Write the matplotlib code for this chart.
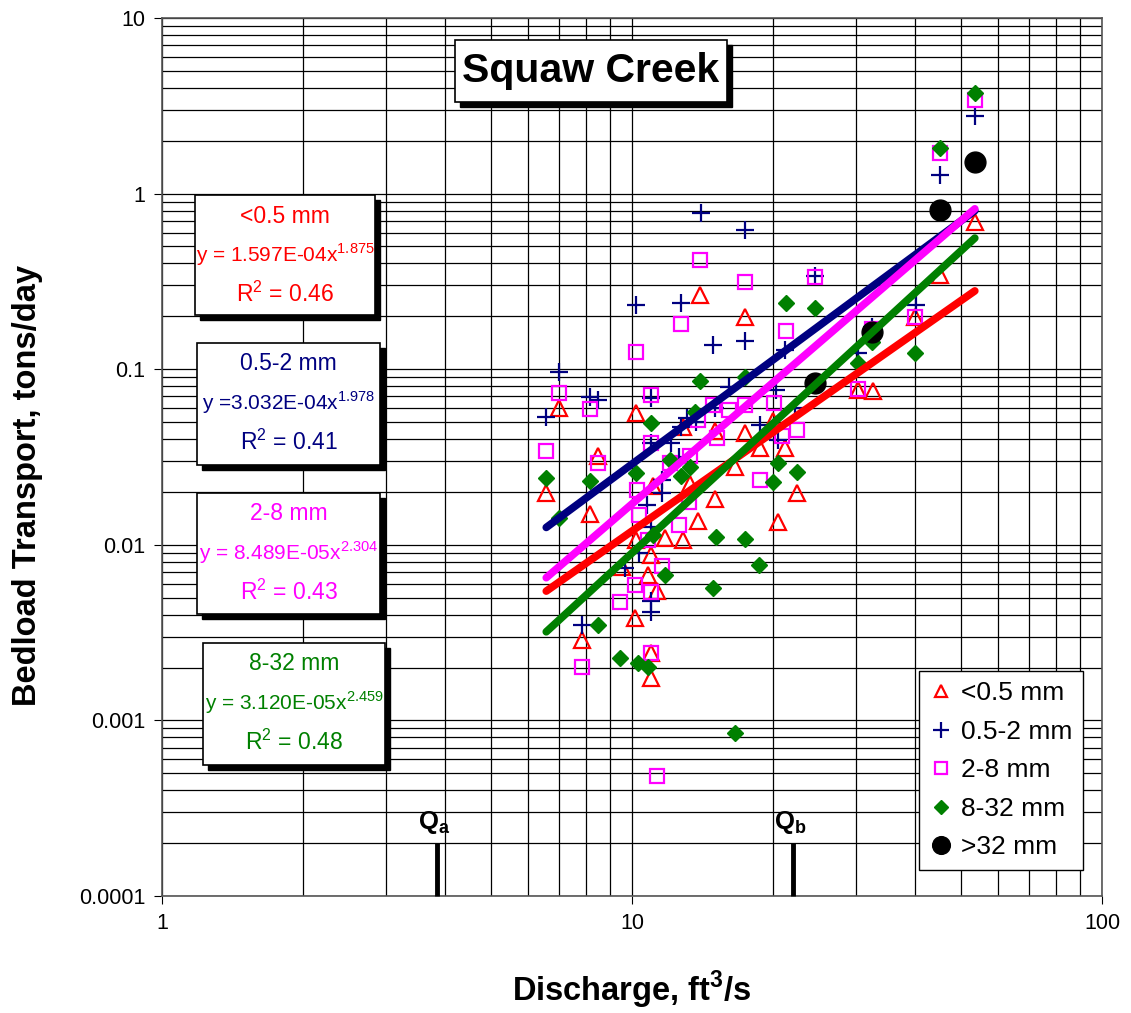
import matplotlib
matplotlib.use('Agg')
import matplotlib.pyplot as plt
from matplotlib.patches import Rectangle
from matplotlib.ticker import FixedLocator, FixedFormatter, NullFormatter
import numpy as np

plt.rcParams['font.family'] = ['Liberation Sans', 'DejaVu Sans']
plt.rcParams['mathtext.fontset'] = 'custom'
plt.rcParams['mathtext.rm'] = 'Liberation Sans'
plt.rcParams['mathtext.bf'] = 'Liberation Sans:bold'

# data (discharge ft3/s, transport tons/day)
fine_x = [6.57, 7.01, 7.81, 8.16, 8.48, 10.22, 10.17, 10.22, 9.50, 10.79, 11.00, 11.00,
          11.00, 11.28, 11.06, 11.73, 12.81, 12.81, 13.26, 13.79, 13.92, 14.99, 14.99,
          16.53, 17.36, 17.36, 18.69, 19.93, 20.41, 21.12, 22.40, 30.22, 32.53, 39.97,
          45.18, 53.63]
fine_y = [0.0198, 0.0604, 0.00288, 0.0149, 0.0322, 0.0566, 0.00385, 0.0106, 0.00751,
          0.00677, 0.00879, 0.00243, 0.00175, 0.00548, 0.0215, 0.0110, 0.0106, 0.0471,
          0.0223, 0.0137, 0.266, 0.0183, 0.0447, 0.0279, 0.197, 0.0436, 0.0358, 0.0510,
          0.0134, 0.0358, 0.0196, 0.0765, 0.0755, 0.197, 0.346, 0.693]

sand_x = [6.57, 7.01, 8.16, 8.48, 7.81, 9.64, 10.37, 10.22, 10.74, 11.00, 11.00, 11.00,
          11.00, 11.00, 11.56, 11.61, 12.11, 12.59, 12.72, 12.72, 13.10, 13.69, 14.03,
          14.88, 14.99, 16.09, 17.36, 17.36, 18.69, 20.26, 20.41, 21.12, 22.18, 24.47,
          30.22, 32.36, 40.17, 45.18, 53.63]
sand_y = [0.0537, 0.0969, 0.0698, 0.0671, 0.00351, 0.00742, 0.00903, 0.233, 0.0169,
          0.0689, 0.0382, 0.0127, 0.00481, 0.00416, 0.0235, 0.0198, 0.0382, 0.0318,
          0.0471, 0.239, 0.0530, 0.0503, 0.779, 0.138, 0.0604, 0.0796, 0.624, 0.144,
          0.0484, 0.0765, 0.0397, 0.129, 0.0604, 0.341, 0.123, 0.175, 0.233, 1.28, 2.75]

fgrav_x = [6.57, 7.01, 7.81, 8.16, 8.48, 9.45, 10.17, 10.22, 10.27, 10.37, 10.79, 11.00,
           11.00, 11.00, 11.00, 11.28, 11.61, 12.02, 12.59, 12.72, 13.26, 13.19, 13.79,
           13.92, 14.88, 15.17, 16.09, 17.36, 17.36, 18.69, 20.01, 20.82, 21.23, 22.40,
           24.47, 30.22, 32.36, 39.97, 45.18, 53.63]
fgrav_y = [0.0340, 0.0736, 0.00202, 0.0597, 0.0294, 0.00475, 0.00593, 0.126, 0.0206,
           0.0147, 0.0107, 0.0717, 0.0382, 0.00541, 0.00243, 0.000485, 0.00761, 0.0294,
           0.0129, 0.182, 0.0322, 0.0176, 0.0516, 0.421, 0.0629, 0.0408, 0.0589, 0.315,
           0.0629, 0.0235, 0.0645, 0.0419, 0.166, 0.0453, 0.337, 0.0775, 0.170, 0.197,
           1.71, 3.43]

cgrav_x = [6.57, 7.01, 8.16, 8.48, 9.45, 10.22, 10.32, 10.79, 11.00, 11.06, 11.73, 12.02,
           12.72, 13.26, 13.59, 13.92, 14.88, 15.06, 16.53, 17.36, 17.36, 18.60, 19.93,
           20.41, 21.23, 22.40, 24.47, 30.22, 32.36, 39.97, 45.18, 53.63]
cgrav_y = [0.0241, 0.0143, 0.0232, 0.00351, 0.00228, 0.0258, 0.00213, 0.00202, 0.0496,
           0.0114, 0.00677, 0.0306, 0.0245, 0.0279, 0.0574, 0.0861, 0.00571, 0.0111,
           0.000852, 0.0908, 0.0108, 0.00771, 0.0229, 0.0294, 0.239, 0.0261, 0.224,
           0.109, 0.142, 0.124, 1.83, 3.76]

cob_x = [24.47, 32.36, 45.18, 53.63]
cob_y = [0.0839, 0.162, 0.811, 1.52]

# power-law fits y = a * x^b
fit_names = ['<0.5 mm', '0.5-2 mm', '2-8 mm', '8-32 mm']
fit_a = [1.597e-4, 3.032e-4, 8.489e-5, 3.120e-5]
fit_b = [1.875, 1.978, 2.304, 2.459]
fit_r2 = [0.46, 0.41, 0.43, 0.48]
fit_eq = ['y = 1.597E-04x', 'y =3.032E-04x', 'y = 8.489E-05x', 'y = 3.120E-05x']

q_a = 3.85
q_b = 22.0

W, H = 1131, 1013
fig = plt.figure(figsize=(W / 100, H / 100), dpi=100)
ax = fig.add_axes([162 / W, 1 - 896 / H, 940 / W, 878 / H])
ax.set_xscale('log')
ax.set_yscale('log')
ax.set_xlim(1, 100)
ax.set_ylim(1e-4, 10)

ax.grid(which='both', color='black', lw=0.9)
ax.set_axisbelow(True)
ax.yaxis.set_major_locator(FixedLocator([1e-4, 1e-3, 1e-2, 0.1, 1, 10]))
ax.yaxis.set_major_formatter(FixedFormatter(['0.0001', '0.001', '0.01', '0.1', '1', '10']))
ax.xaxis.set_major_locator(FixedLocator([1, 10, 100]))
ax.xaxis.set_major_formatter(FixedFormatter(['1', '10', '100']))
ax.xaxis.set_minor_formatter(NullFormatter())
ax.yaxis.set_minor_formatter(NullFormatter())
ax.tick_params(which='major', direction='out', length=6, labelsize=15.5, pad=6)
ax.tick_params(which='minor', length=0)
for s in ax.spines.values():
    s.set_color('#555555')
    s.set_linewidth(1.2)

colors = ['#FF0000', '#000080', '#FF00FF', '#008000']

h1, = ax.plot(fine_x, fine_y, ls='none', marker='^', mfc='none', mec=colors[0],
              mew=1.6, ms=11, label='<0.5 mm')
h2, = ax.plot(sand_x, sand_y, ls='none', marker='+', mec=colors[1],
              mew=1.6, ms=13, label='0.5-2 mm')
h3, = ax.plot(fgrav_x, fgrav_y, ls='none', marker='s', mfc='none', mec=colors[2],
              mew=1.6, ms=10, label='2-8 mm')
h4, = ax.plot(cgrav_x, cgrav_y, ls='none', marker='D', mfc=colors[3], mec=colors[3],
              ms=8, label='8-32 mm')
h5, = ax.plot(cob_x, cob_y, ls='none', marker='o', mfc='black', mec='black',
              ms=15, label='>32 mm')

xs = np.linspace(6.57, 53.63, 50)
for i in [0, 1, 2, 3]:
    ax.plot(xs, fit_a[i] * xs ** fit_b[i], color=colors[i], lw=5.5,
            solid_capstyle='round', zorder=3)

# Qa / Qb markers
for q, lab in [(q_a, r'Q$_{\mathbf{a}}$'), (q_b, r'Q$_{\mathbf{b}}$')]:
    ax.plot([q, q], [1e-4, 2.0e-4], color='black', lw=3.5, solid_capstyle='butt',
            zorder=4, clip_on=False)
    ax.text(q * 0.985, 2.2e-4, lab, ha='center', va='bottom', fontsize=18.5,
            fontweight='bold')

ax.set_xlabel(r'Discharge, ft$^{\mathbf{3}}$/s', fontsize=23.5, fontweight='bold',
              labelpad=25)
ax.set_ylabel('Bedload Transport, tons/day', fontsize=23.5, fontweight='bold')
ax.yaxis.set_label_coords(-0.127, 0.468)

leg = ax.legend(handles=[h1, h2, h3, h4, h5], loc='lower right',
                bbox_to_anchor=(1083 / W, 1 - 870 / H), bbox_transform=fig.transFigure,
                fontsize=19, fancybox=False, framealpha=1, edgecolor='black',
                handlelength=0.9, handletextpad=0.3, borderpad=0.4, borderaxespad=0,
                labelspacing=0.55, markerscale=0.85)
leg.get_frame().set_linewidth(1.0)


def box(x0, y0, x1, y1):
    # white box with black drop shadow, pixel coords
    fig.patches.append(Rectangle(((x0 + 5) / W, 1 - (y1 + 5) / H), (x1 - x0) / W,
                                 (y1 - y0) / H, transform=fig.transFigure,
                                 facecolor='black', edgecolor='black', zorder=5))
    fig.patches.append(Rectangle((x0 / W, 1 - y1 / H), (x1 - x0) / W, (y1 - y0) / H,
                                 transform=fig.transFigure, facecolor='white',
                                 edgecolor='black', lw=1.2, zorder=6))


box(455, 40, 727, 102)
fig.text(591 / W, 1 - 71 / H, 'Squaw Creek', ha='center', va='center', fontsize=29.5,
         fontweight='bold', zorder=7)

eq_boxes = [(195, 195, 375, 315), (197, 343, 380, 465), (197, 493, 380, 614),
            (203, 643, 385, 765)]
for i in range(4):
    x0, y0, x1, y1 = eq_boxes[i]
    box(x0, y0, x1, y1)
    cx = (x0 + x1) / 2
    fig.text(cx / W, 1 - (y0 + 21) / H, fit_names[i], ha='center', va='center',
             fontsize=16.5, color=colors[i], zorder=7)
    fig.text(cx / W, 1 - (y0 + 60) / H, fit_eq[i] + '$^{%.3f}$' % fit_b[i],
             ha='center', va='center', fontsize=15, color=colors[i], zorder=7)
    fig.text(cx / W, 1 - (y0 + 99) / H, 'R$^2$ = %.2f' % fit_r2[i], ha='center',
             va='center', fontsize=16.5, color=colors[i], zorder=7)

fig.savefig('out.png', dpi=100)
